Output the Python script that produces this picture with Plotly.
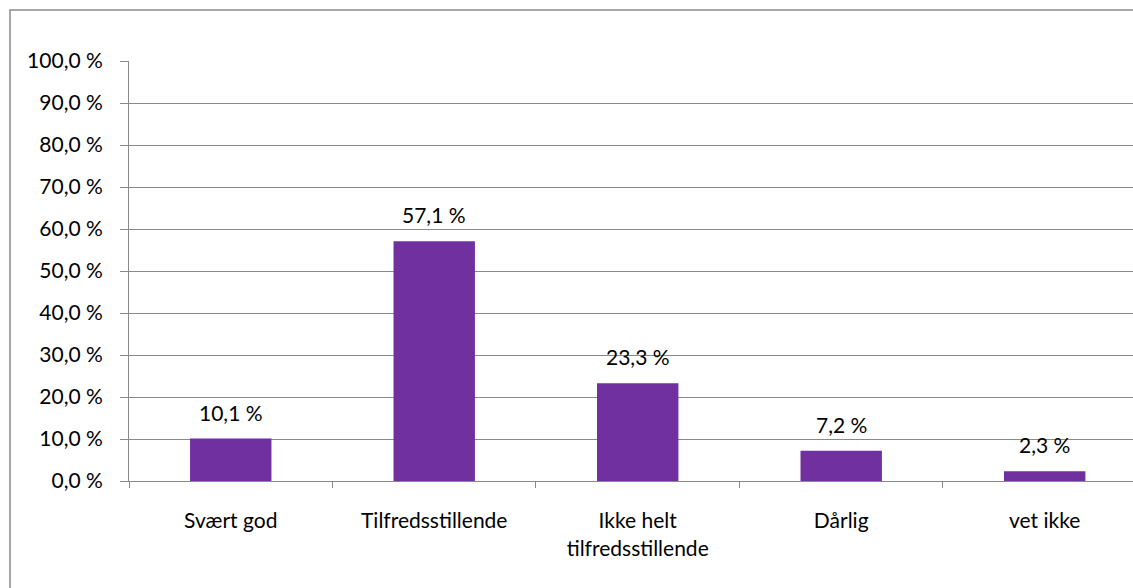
import plotly.graph_objects as go

categories = ["Svært god", "Tilfredsstillende", "Ikke helt<br>tilfredsstillende", "Dårlig", "vet ikke"]
values = [10.1, 57.1, 23.3, 7.2, 2.3]
y_ticks = [0, 10, 20, 30, 40, 50, 60, 70, 80, 90, 100]
y_tick_text = [f"{t:.1f} %".replace(".", ",") for t in y_ticks]

BAR_COLOR = "#7030A0"
GRID = "#898989"
FONT = "Lato"
FSIZE = 21

fig = go.Figure()
fig.add_trace(go.Bar(
    x=categories,
    y=values,
    marker=dict(color=BAR_COLOR, line=dict(width=0)),
    width=0.4,
    hoverinfo="skip",
))

# value labels above each bar
for c, v in zip(categories, values):
    fig.add_annotation(
        x=c, y=v, text=f"{v:.1f} %".replace(".", ","),
        showarrow=False, yanchor="bottom", yshift=12,
        font=dict(family=FONT, size=FSIZE, color="#000000"),
    )

fig.update_layout(
    width=1133, height=588,
    margin=dict(l=129, r=0, t=61, b=107),
    paper_bgcolor="white", plot_bgcolor="white",
    showlegend=False,
    font=dict(family=FONT, size=FSIZE, color="#000000"),
    xaxis=dict(
        type="category",
        range=[-0.5, 4.434],
        showline=True, linecolor=GRID, linewidth=1,
        ticks="outside", tickson="boundaries", ticklen=6, tickcolor=GRID,
        showgrid=False,
        ticklabelstandoff=21,
        tickfont=dict(family=FONT, size=FSIZE, color="#000000"),
    ),
    yaxis=dict(
        range=[0, 100],
        tickmode="array", tickvals=y_ticks, ticktext=y_tick_text,
        showline=True, linecolor=GRID, linewidth=1,
        ticks="outside", ticklen=8, tickcolor=GRID,
        showgrid=True, gridcolor=GRID, gridwidth=1,
        zeroline=False,
        ticklabelstandoff=13,
        tickfont=dict(family=FONT, size=FSIZE, color="#000000"),
    ),
    shapes=[dict(
        type="rect", xref="paper", yref="paper",
        x0=(10 - 129) / 1004, x1=1.2,
        y0=-0.5, y1=(481 - 10) / 420,
        line=dict(color="#8a8a8a", width=1.5),
        fillcolor="rgba(0,0,0,0)", layer="below",
    )],
)

fig.write_html("out.html")
